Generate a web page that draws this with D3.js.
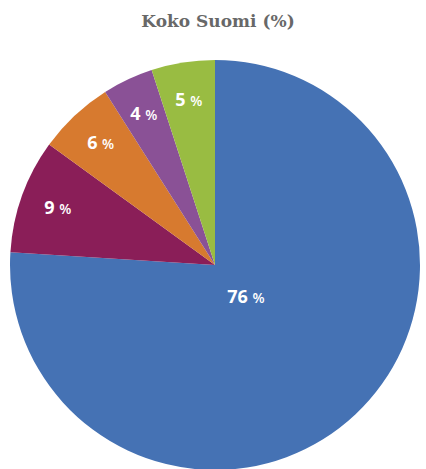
<!DOCTYPE html>
<html>
<head>
<meta charset="utf-8">
<script src="https://cdn.jsdelivr.net/npm/d3@7"></script>
<style>
  body { margin: 0; background: #fff; }
</style>
</head>
<body>
<div id="chart"></div>
<script>
const categories = ['A', 'B', 'C', 'D', 'E']
const values = [76, 9, 6, 4, 5]
const colors = ['#4572b4', '#8a1e58', '#d77a2f', '#8a5196', '#99bc42']
const title = 'Koko Suomi (%)'

const width = 426
const height = 469
const cx = 215
const cy = 265
const radius = 205

const svg = d3.select('#chart')
    .append('svg')
    .attr('width', width)
    .attr('height', height)

svg.append('text')
    .attr('x', 218)
    .attr('y', 27)
    .attr('text-anchor', 'middle')
    .attr('font-family', 'DejaVu Serif')
    .attr('font-weight', 'bold')
    .attr('font-size', 17)
    .attr('fill', '#686868')
    .text(title)

const data = categories.map((c, i) => ({name: c, value: values[i], color: colors[i]}))

const pie = d3.pie()
    .value(d => d.value)
    .sort(null)

const arc = d3.arc()
    .innerRadius(0)
    .outerRadius(radius)

const g = svg.append('g')
    .attr('transform', `translate(${cx}, ${cy})`)

const arcs = pie(data)

g.selectAll('path')
    .data(arcs)
    .enter()
    .append('path')
    .attr('d', arc)
    .attr('fill', d => d.data.color)

// big slice gets its label near the middle, small ones further out
const labelPos = d => {
    const r = d.data.value > 50 ? 45 : 167
    return d3.arc().innerRadius(r).outerRadius(r).centroid(d)
}

const labels = g.selectAll('text.lbl')
    .data(arcs)
    .enter()
    .append('text')
    .attr('class', 'lbl')
    .attr('transform', d => `translate(${labelPos(d)})`)
    .attr('text-anchor', 'middle')
    .attr('dy', '0.35em')
    .attr('font-family', 'Open Sans')
    .attr('font-weight', 'bold')
    .attr('fill', '#fff')

labels.append('tspan')
    .attr('font-size', 18)
    .text(d => d.data.value + ' ')

labels.append('tspan')
    .attr('font-size', 14)
    .attr('font-weight', 600)
    .text('%')
</script>
</body>
</html>
